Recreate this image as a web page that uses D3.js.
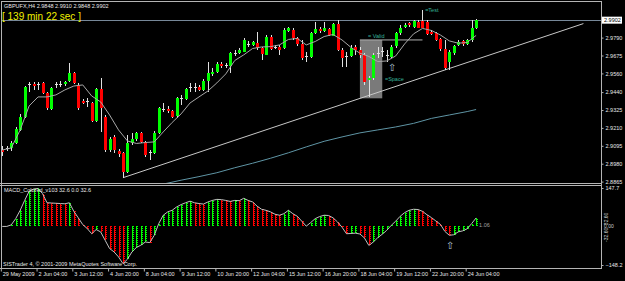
<!DOCTYPE html>
<html lang="en">
<head>
<meta charset="utf-8">
<title>GBPUFX,H4</title>
<script src="https://cdnjs.cloudflare.com/ajax/libs/d3/7.8.5/d3.min.js"></script>
<style>
body { margin: 0; background: #000; }
svg { display: block; }
text { font-family: "Liberation Sans", Arial, sans-serif; }
</style>
</head>
<body>
<script>
var w = 625;
var h = 281;

// H4 bars, 29 May 20:00 .. 24 Jun 12:00
var open = [
2.9068,2.9081,2.9075,2.9113,2.9197,2.9280,2.9489,2.9490,2.9489,2.9497,
2.9433,2.9336,2.9490,2.9492,2.9486,2.9507,2.9561,2.9486,2.9383,2.9379,
2.9368,2.9255,2.9458,2.9282,2.9068,2.9152,2.9062,2.9049,2.8927,2.9113,
2.9139,2.9177,2.9120,2.9049,2.9049,2.9177,2.9332,2.9332,2.9319,2.9282,
2.9400,2.9396,2.9470,2.9473,2.9475,2.9454,2.9507,2.9557,2.9569,2.9619,
2.9614,2.9608,2.9690,2.9690,2.9700,2.9749,2.9743,2.9754,2.9722,2.9683,
2.9796,2.9728,2.9732,2.9722,2.9833,2.9839,2.9786,2.9749,2.9672,2.9661,
2.9818,2.9846,2.9833,2.9846,2.9803,2.9878,2.9711,2.9669,2.9672,2.9730,
2.9711,2.9679,2.9513,2.9529,2.9690,2.9700,2.9679,2.9668,2.9732,2.9818,
2.9860,2.9882,2.9860,2.9893,2.9899,2.9893,2.9828,2.9818,2.9780,2.9715,
2.9636,2.9690,2.9743,2.9771,2.9749,2.9775,2.9848];
var high = [
2.9094,2.9094,2.9126,2.9216,2.9300,2.9479,2.9505,2.9505,2.9505,2.9505,
2.9441,2.9473,2.9505,2.9512,2.9512,2.9627,2.9569,2.9499,2.9396,2.9402,
2.9377,2.9467,2.9531,2.9293,2.9152,2.9165,2.9075,2.9055,2.9165,2.9177,
2.9184,2.9184,2.9126,2.9068,2.9190,2.9345,2.9370,2.9351,2.9325,2.9409,
2.9422,2.9467,2.9499,2.9499,2.9486,2.9524,2.9636,2.9595,2.9634,2.9634,
2.9627,2.9698,2.9711,2.9724,2.9788,2.9769,2.9769,2.9828,2.9730,2.9807,
2.9807,2.9743,2.9743,2.9852,2.9860,2.9852,2.9794,2.9775,2.9698,2.9826,
2.9893,2.9859,2.9893,2.9852,2.9884,2.9904,2.9724,2.9700,2.9743,2.9743,
2.9730,2.9692,2.9544,2.9692,2.9732,2.9732,2.9711,2.9743,2.9826,2.9871,
2.9884,2.9891,2.9904,2.9904,2.9968,2.9904,2.9839,2.9826,2.9788,2.9775,
2.9711,2.9743,2.9775,2.9775,2.9781,2.9904,2.9910];
var low = [
2.9030,2.9062,2.9062,2.9107,2.9190,2.9274,2.9441,2.9454,2.9454,2.9428,
2.9325,2.9325,2.9467,2.9473,2.9479,2.9505,2.9492,2.9325,2.9364,2.9345,
2.9248,2.9248,2.9184,2.9055,2.9055,2.9049,2.9023,2.8890,2.8920,2.9100,
2.9126,2.9113,2.9023,2.9004,2.9043,2.9171,2.9312,2.9306,2.9274,2.9274,
2.9357,2.9390,2.9441,2.9441,2.9447,2.9447,2.9441,2.9544,2.9563,2.9595,
2.9595,2.9561,2.9672,2.9685,2.9698,2.9732,2.9736,2.9711,2.9647,2.9679,
2.9711,2.9717,2.9679,2.9717,2.9826,2.9775,2.9736,2.9647,2.9636,2.9659,
2.9814,2.9820,2.9826,2.9801,2.9801,2.9704,2.9603,2.9603,2.9666,2.9679,
2.9659,2.9486,2.9411,2.9518,2.9657,2.9668,2.9636,2.9659,2.9724,2.9807,
2.9852,2.9859,2.9852,2.9852,2.9852,2.9807,2.9807,2.9769,2.9704,2.9582,
2.9582,2.9679,2.9736,2.9736,2.9743,2.9764,2.9848];
var close = [
2.9055,2.9079,2.9110,2.9203,2.9280,2.9473,2.9492,2.9479,2.9490,2.9433,
2.9336,2.9469,2.9492,2.9490,2.9502,2.9561,2.9497,2.9336,2.9370,2.9380,
2.9255,2.9458,2.9336,2.9068,2.9139,2.9068,2.9043,2.8927,2.9113,2.9139,
2.9177,2.9122,2.9036,2.9055,2.9177,2.9338,2.9329,2.9319,2.9282,2.9400,
2.9402,2.9460,2.9471,2.9471,2.9454,2.9512,2.9561,2.9571,2.9619,2.9603,
2.9608,2.9690,2.9692,2.9711,2.9775,2.9747,2.9760,2.9722,2.9683,2.9796,
2.9722,2.9730,2.9715,2.9839,2.9850,2.9786,2.9747,2.9661,2.9674,2.9818,
2.9846,2.9833,2.9850,2.9807,2.9878,2.9711,2.9657,2.9668,2.9722,2.9711,
2.9679,2.9507,2.9529,2.9679,2.9688,2.9701,2.9677,2.9732,2.9818,2.9850,
2.9871,2.9871,2.9899,2.9857,2.9857,2.9818,2.9818,2.9775,2.9715,2.9593,
2.9700,2.9736,2.9764,2.9749,2.9775,2.9850,2.9902];

// fast moving average, read every second bar
var maBars = [0,2,4,6,8,10,12,14,16,18,20,22,24,26,28,30,32,34,36,38,40,42,44,46,48,50,52,54,56,58,
              60,62,64,66,68,70,72,74,76,78,80,82,84,86,88,90,92,94,96,98,100,102,104,106];
var maValues = [2.9068,2.9081,2.9197,2.9351,2.9409,2.9409,2.9422,2.9454,2.9479,2.9486,
                2.9415,2.9377,2.9293,2.9197,2.9126,2.9110,2.9116,2.9120,2.9184,2.9245,
                2.9300,2.9370,2.9409,2.9447,2.9499,2.9557,2.9643,2.9679,2.9720,2.9730,
                2.9732,2.9743,2.9778,2.9785,2.9743,2.9765,2.9797,2.9810,2.9775,2.9727,
                2.9690,2.9669,2.9636,2.9640,2.9672,2.9749,2.9814,2.9849,2.9836,2.9807,
                2.9769,2.9754,2.9759,2.9804];

// slow moving average
var slowBars = [36,40,44,48,52,56,60,64,68,72,76,80,84,88,92,96,100,104,106];
var slowValues = [2.8849,2.8874,2.8897,2.8922,2.8954,2.8983,2.9015,2.9050,2.9088,2.9124,
                  2.9152,2.9178,2.9197,2.9216,2.9239,2.9271,2.9293,2.9315,2.9328];

// MACD histogram
var macd = [
0,0,6,30,62,100,135,144,146,126,
91,90,89,88,87,91,58,33,7,-8,
-28,-12,-21,-53,-85,-98,-117,-143,-126,-98,
-81,-72,-60,-62,-34,11,43,56,62,75,
84,91,97,91,88,86,94,100,104,103,
100,96,100,99,108,100,94,78,66,62,
56,47,43,49,62,49,39,20,1,15,
30,38,43,42,33,17,-3,-28,-27,-26,
-29,-44,-73,-60,-43,-30,-15,4,20,39,
53,62,66,65,58,45,34,21,8,-19,
-34,-32,-21,-17,-9,11,32.6];

var priceTicks = [2.9790,2.9675,2.9560,2.9440,2.9325,2.9210,2.9095,2.8980,2.8865];
var macdTicks = [147.7,-148.2];
var timeTickBars = [0,8,16,24,32,40,48,56,64,72,80,88,96,104];
var timeTickLabels = ["29 May 2009","2 Jun 04:00","3 Jun 12:00","4 Jun 20:00","8 Jun 04:00","9 Jun 12:00",
                      "10 Jun 20:00","12 Jun 04:00","15 Jun 12:00","16 Jun 20:00","18 Jun 04:00",
                      "19 Jun 12:00","22 Jun 20:00","24 Jun 04:00"];

// objects
var trendBars = [27,130];
var trendPrices = [2.8890,2.9880];
var boxBars = [80,85];
var boxPrices = [2.9775,2.9400];
var validBars = [80,94];
var validPrice = 2.9775;

var fs = "5.5px";

var svg = d3.select("body").append("svg")
	.attr("width", w)
	.attr("height", h);
svg.append("rect").attr("width", w).attr("height", h).attr("fill", "#000");

var x = d3.scaleLinear().domain([0,106]).range([2.3,476.12]);
var y = d3.scaleLinear().domain([2.8856,3.0022]).range([183,1.5]);
var m = d3.scaleLinear().domain([-148.2,147.7]).range([265,188]);
var px = function(i) { return Math.round(x(i)) + 0.5; };

var defs = svg.append("defs");
defs.append("clipPath").attr("id","mainClip").append("rect")
	.attr("x",2).attr("y",2).attr("width",599).attr("height",181);
defs.append("clipPath").attr("id","macdClip").append("rect")
	.attr("x",2).attr("y",186).attr("width",599).attr("height",82);

var main = svg.append("g").attr("clip-path","url(#mainClip)");

// bid line
main.append("line")
	.attr("x1",1.5).attr("x2",601.5)
	.attr("y1",Math.round(y(close[106]))+0.5).attr("y2",Math.round(y(close[106]))+0.5)
	.attr("stroke","#778899");

// rectangle object
main.append("rect")
	.attr("x",x(boxBars[0])).attr("width",x(boxBars[1]) - x(boxBars[0]))
	.attr("y",y(boxPrices[0])).attr("height",y(boxPrices[1]) - y(boxPrices[0]))
	.attr("fill","#7a7a7a");

main.append("line")
	.attr("x1",x(validBars[0])).attr("x2",x(validBars[1]))
	.attr("y1",y(validPrice)).attr("y2",y(validPrice))
	.attr("stroke","#b0b0b0");

main.append("path")
	.attr("d", d3.line().x(function(d){ return x(d); }).y(function(d,i){ return y(slowValues[i]); })(slowBars))
	.attr("fill","none").attr("stroke","#5f95a5").attr("stroke-width",1);

main.append("path")
	.attr("d", d3.line().x(function(d){ return x(d); }).y(function(d,i){ return y(trendPrices[i]); })(trendBars))
	.attr("fill","none").attr("stroke","#c8c8c8").attr("stroke-width",1);

// candles
var idx = d3.range(open.length);
main.selectAll("line.wick")
	.data(idx).enter().append("line")
	.attr("class","wick")
	.attr("x1",px).attr("x2",px)
	.attr("y1",function(i){ return y(high[i]); })
	.attr("y2",function(i){ return y(low[i]); })
	.attr("stroke","#e0e0e0")
	.attr("shape-rendering","crispEdges");

main.selectAll("rect.body")
	.data(idx).enter().append("rect")
	.attr("class","body")
	.attr("x",function(i){ return Math.round(x(i)) - 1; })
	.attr("width",3)
	.attr("y",function(i){ return Math.round(y(Math.max(open[i],close[i]))); })
	.attr("height",function(i){ return Math.max(1, Math.round(Math.abs(y(open[i]) - y(close[i])))); })
	.attr("fill",function(i){
		if (Math.abs(y(open[i]) - y(close[i])) < 1) return "#e0e0e0";
		return close[i] > open[i] ? "#00ff00" : "#ff0000";
	})
	.attr("shape-rendering","crispEdges");

main.append("path")
	.attr("d", d3.line().x(function(d){ return x(d); }).y(function(d,i){ return y(maValues[i]); })(maBars))
	.attr("fill","none").attr("stroke","#a8a8a8").attr("stroke-width",1);

// text objects
var noteColor = "#36b49c";
main.append("text").attr("x",x(81.8)).attr("y",y(2.9797)).attr("dy","0.35em")
	.attr("font-size",fs).attr("fill",noteColor).text("= Valid");
main.append("text").attr("x",x(94.6)).attr("y",y(2.9968)).attr("dy","0.35em")
	.attr("font-size",fs).attr("fill",noteColor).text("=Test");
main.append("text").attr("x",x(85.6)).attr("y",y(2.9524)).attr("dy","0.35em")
	.attr("font-size",fs).attr("fill",noteColor).text("=Space");
main.append("text").attr("x",x(87) + 0.5).attr("y",y(2.9600)).attr("dy","0.35em")
	.attr("text-anchor","middle").attr("font-family","DejaVu Sans")
	.attr("font-size","10px").attr("fill","#b0c4d0").text("\u21e7");

// MACD panel
var sub = svg.append("g").attr("clip-path","url(#macdClip)");
var histColor = function(i){ return (i > 0 && macd[i] < macd[i-1]) ? "#ff0000" : "#00ff00"; };
sub.selectAll("line.hist")
	.data(idx).enter().append("line")
	.attr("class","hist")
	.attr("x1",px).attr("x2",px)
	.attr("y1",m(0))
	.attr("y2",function(i){ return m(macd[i]); })
	.attr("stroke",histColor)
	.attr("shape-rendering","crispEdges");
sub.selectAll("line.hist2")
	.data(idx).enter().append("line")
	.attr("class","hist2")
	.attr("x1",function(i){ return px(i) + 1; }).attr("x2",function(i){ return px(i) + 1; })
	.attr("y1",m(0))
	.attr("y2",function(i){ return m(macd[i]); })
	.attr("stroke",histColor)
	.attr("stroke-dasharray","1,1")
	.attr("shape-rendering","crispEdges");
sub.append("path")
	.attr("d", d3.line().x(function(d,i){ return x(i); }).y(function(d){ return m(d); })(macd))
	.attr("fill","none").attr("stroke","#c0c0c0").attr("stroke-width",1);
sub.append("text").attr("x",x(100) + 0.5).attr("y",m(-73)).attr("dy","0.35em")
	.attr("text-anchor","middle").attr("font-family","DejaVu Sans")
	.attr("font-size","10px").attr("fill","#b0c4d0").text("\u21e7");
sub.append("text").attr("x",x(106) + 3).attr("y",m(0)).attr("dy","0.1em")
	.attr("font-size",fs).attr("fill","#a0a0a0").text("1.06");

// frame
var frame = svg.append("g").attr("stroke","#b4b4b4").attr("fill","none").attr("shape-rendering","crispEdges");
frame.append("line").attr("x1",1.5).attr("x2",1.5).attr("y1",1).attr("y2",268.5);
frame.append("line").attr("x1",601.5).attr("x2",601.5).attr("y1",1).attr("y2",268.5);
frame.append("line").attr("x1",1.5).attr("x2",601.5).attr("y1",1.5).attr("y2",1.5);
frame.append("line").attr("x1",0).attr("x2",601.5).attr("y1",183.5).attr("y2",183.5);
frame.append("line").attr("x1",0).attr("x2",601.5).attr("y1",185.5).attr("y2",185.5);
frame.append("line").attr("x1",0).attr("x2",601.5).attr("y1",268.5).attr("y2",268.5);

// axes
var priceAxis = svg.append("g")
	.attr("transform","translate(601.5,0)")
	.call(d3.axisRight(y).tickValues(priceTicks).tickFormat(d3.format(".4f")).tickSize(2).tickPadding(2));
var macdAxis = svg.append("g")
	.attr("transform","translate(601.5,0)")
	.call(d3.axisRight(m).tickValues(macdTicks).tickFormat(d3.format(".1f")).tickSize(2).tickPadding(2));
var timeAxis = svg.append("g")
	.attr("transform","translate(-1.5,268.5)")
	.call(d3.axisBottom(x).tickValues(timeTickBars)
		.tickFormat(function(d,i){ return timeTickLabels[i]; }).tickSize(3).tickPadding(1));

[priceAxis, macdAxis, timeAxis].forEach(function(a) {
	a.select(".domain").remove();
	a.selectAll("line").attr("stroke","#b4b4b4");
	a.selectAll("text").attr("fill","#e8e8e8").attr("font-size",fs)
		.attr("font-family",null);
});
timeAxis.selectAll("text").attr("text-anchor","start").attr("dx","1.5px");

// current price marker
var bidY = y(close[106]);
svg.append("rect").attr("x",602).attr("y",bidY - 3.5).attr("width",20).attr("height",7)
	.attr("fill","#ffffff");
svg.append("text").attr("x",604).attr("y",bidY).attr("dy","0.35em")
	.attr("font-size",fs).attr("fill","#000").text(d3.format(".4f")(close[106]));

// level labels on MACD scale
svg.append("text").attr("transform","translate(606," + m(5) + ") rotate(-90)")
	.attr("font-size","5px").attr("fill","#d0d0d0").attr("dy","0.35em").text("32.60");
svg.append("text").attr("x",604).attr("y",m(0)).attr("dy","0.35em")
	.attr("font-size","5px").attr("fill","#d0d0d0").text("0.00");
svg.append("text").attr("transform","translate(606," + m(-5) + ") rotate(-90)")
	.attr("font-size","5px").attr("fill","#d0d0d0").attr("dy","0.35em").attr("text-anchor","end").text("-32.60");

// header texts
svg.append("text").attr("x",4).attr("y",7.5)
	.attr("font-size",fs).attr("fill","#e8e8e8")
	.text("GBPUFX,H4  " + d3.format(".4f")(open[106]) + " " + d3.format(".4f")(high[106]) + " " +
		d3.format(".4f")(low[106]) + " " + d3.format(".4f")(close[106]));
svg.append("text").attr("x",2).attr("y",19.5)
	.attr("font-size","10px").attr("fill","#f0f000")
	.text("[ 139 min 22 sec ]");
svg.append("text").attr("x",4).attr("y",191.5)
	.attr("font-size",fs).attr("fill","#e8e8e8")
	.text("MACD_Colored_v103 32.6 0.0 32.6");
svg.append("text").attr("x",3).attr("y",265.5)
	.attr("font-size",fs).attr("fill","#e8e8e8")
	.text("SISTrader 4, \u00a9 2001-2009 MetaQuotes Software Corp.");
</script>
</body>
</html>
